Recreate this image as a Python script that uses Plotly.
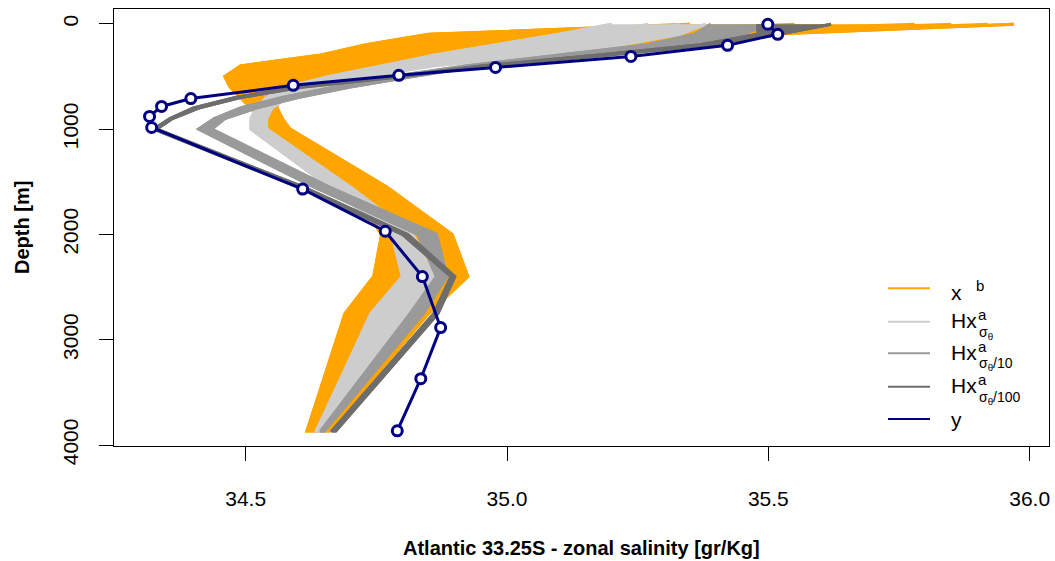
import plotly.graph_objects as go

# ---------------- data ----------------
model_depth = [5, 100, 200, 300, 400, 500, 600, 700, 800, 900, 1000, 1550, 2000, 2400, 2750, 3870]

# background ensemble x^b (orange), ordered shallow -> deep thermocline
xb_members = [
    [35.35, 34.85, 34.73, 34.64, 34.49, 34.46, 34.47, 34.49, 34.51, 34.53, 34.550, 34.70, 34.760, 34.745, 34.690, 34.617],
    [35.55, 35.02, 34.82, 34.70, 34.54, 34.47, 34.48, 34.50, 34.52, 34.54, 34.560, 34.71, 34.770, 34.760, 34.700, 34.622],
    [35.78, 35.20, 34.92, 34.77, 34.60, 34.50, 34.49, 34.51, 34.53, 34.55, 34.570, 34.72, 34.780, 34.780, 34.720, 34.630],
    [35.85, 35.32, 35.02, 34.85, 34.67, 34.55, 34.51, 34.52, 34.54, 34.56, 34.575, 34.74, 34.860, 34.905, 34.830, 34.652],
    [35.92, 35.42, 35.12, 34.93, 34.74, 34.61, 34.55, 34.54, 34.55, 34.57, 34.580, 34.75, 34.880, 34.915, 34.840, 34.656],
    [35.97, 35.50, 35.22, 35.00, 34.82, 34.68, 34.59, 34.56, 34.56, 34.57, 34.585, 34.77, 34.895, 34.925, 34.850, 34.660],
]

# analysis Hx^a, sigma_theta (light grey)
hxa_members = [
    [35.20, 35.10, 34.98, 34.86, 34.76, 34.66, 34.58, 34.54, 34.52, 34.51, 34.510, 34.66, 34.780, 34.800, 34.740, 34.635],
    [35.27, 35.18, 35.06, 34.93, 34.80, 34.69, 34.60, 34.55, 34.53, 34.52, 34.520, 34.67, 34.790, 34.820, 34.760, 34.640],
    [35.33, 35.26, 35.14, 35.00, 34.83, 34.71, 34.62, 34.57, 34.54, 34.53, 34.530, 34.68, 34.810, 34.840, 34.785, 34.645],
    [35.38, 35.33, 35.22, 35.06, 34.86, 34.73, 34.64, 34.58, 34.55, 34.54, 34.540, 34.70, 34.820, 34.860, 34.810, 34.650],
]

# analysis Hx^a, sigma_theta/10 (grey)
hxa10_members = [
    [35.39, 35.36, 35.27, 35.10, 34.92, 34.78, 34.67, 34.57, 34.49, 34.44, 34.410, 34.63, 34.830, 34.865, 34.815, 34.643],
    [35.50, 35.45, 35.34, 35.15, 34.95, 34.82, 34.70, 34.60, 34.52, 34.46, 34.435, 34.66, 34.865, 34.885, 34.840, 34.650],
]

# analysis Hx^a, sigma_theta/100 (dark grey)
hxa100_members = [
    [35.48, 35.48, 35.37, 35.17, 34.95, 34.79, 34.60, 34.48, 34.40, 34.355, 34.324, 34.60, 34.800, 34.893, 34.860, 34.664],
    [35.62, 35.52, 35.39, 35.19, 34.96, 34.80, 34.61, 34.49, 34.41, 34.360, 34.330, 34.61, 34.810, 34.900, 34.868, 34.672],
]

# observations y
obs_depth = [5, 100, 205, 310, 415, 490, 585, 710, 785, 880, 985, 1570, 1970, 2400, 2885, 3370, 3865]
obs_salinity = [35.499, 35.518, 35.422, 35.237, 34.978, 34.793, 34.591, 34.395, 34.339, 34.316, 34.320,
                34.609, 34.767, 34.838, 34.873, 34.835, 34.790]

x_ticks = [34.5, 35.0, 35.5, 36.0]
x_ticktext = ["34.5", "35.0", "35.5", "36.0"]
y_ticks = [0, 1000, 2000, 3000, 4000]
y_ticktext = ["0", "1000", "2000", "3000", "4000"]

ORANGE = "#FFA500"
LGREY = "#CDCDCD"
MGREY = "#9A9A9A"
DGREY = "#6E6E6E"
NAVY = "#000080"
FONT = "Liberation Sans, Arial, sans-serif"

# ---------------- figure ----------------
W, H = 1055, 561
L, R, T, B = 114, 6, 9, 115
fig = go.Figure()

def add_ensemble(members, color, width):
    first, last = members[0], members[-1]
    # envelope between the first and last member (from the data itself)
    fig.add_trace(go.Scatter(x=first + last[::-1], y=model_depth + model_depth[::-1],
                             mode="lines", fill="toself", fillcolor=color,
                             line=dict(color=color, width=width),
                             showlegend=False, hoverinfo="skip"))
    for m in members:
        fig.add_trace(go.Scatter(x=m, y=model_depth, mode="lines",
                                 line=dict(color=color, width=width),
                                 showlegend=False, hoverinfo="skip"))

add_ensemble(xb_members, ORANGE, 3)
add_ensemble(hxa_members, LGREY, 3)
add_ensemble(hxa10_members, MGREY, 3)
add_ensemble(hxa100_members, DGREY, 3)

fig.add_trace(go.Scatter(x=obs_salinity, y=obs_depth, mode="lines+markers",
                         line=dict(color=NAVY, width=3),
                         marker=dict(symbol="circle", size=10, color="white",
                                     line=dict(color=NAVY, width=3)),
                         showlegend=False, hoverinfo="skip"))

axis_common = dict(showgrid=False, zeroline=False, showline=True, linecolor="black",
                   linewidth=1.3, mirror=True, ticks="outside", ticklen=14,
                   tickwidth=1.3, tickcolor="black", automargin=False,
                   tickfont=dict(family=FONT, size=21, color="black"))

fig.update_xaxes(range=[34.248, 36.037], tickmode="array", tickvals=x_ticks,
                 ticktext=x_ticktext, ticklabelstandoff=20, **axis_common)
fig.update_yaxes(range=[4009, -140], tickmode="array", tickvals=y_ticks,
                 ticktext=y_ticktext, tickangle=-90, ticklabelstandoff=12, **axis_common)

def px2paper(px, py):
    return (px - L) / (W - L - R), (H - B - py) / (H - T - B)

annotations = []
def ann(text, px, py, size, bold=False, xanchor="left", angle=0):
    x, y = px2paper(px, py)
    annotations.append(dict(text=f"<b>{text}</b>" if bold else text, x=x, y=y,
                            xref="paper", yref="paper", showarrow=False,
                            xanchor=xanchor, yanchor="middle", textangle=angle,
                            font=dict(family=FONT, size=size, color="black")))

ann("Atlantic 33.25S - zonal salinity [gr/Kg]", 581, 548, 20, bold=True, xanchor="center")
ann("Depth [m]", 22, 228, 20, bold=True, xanchor="center", angle=-90)

# legend (bottom right, no box)
leg_rows = [288.3, 321.7, 353.3, 386.7, 419.0]
leg_colors = [ORANGE, LGREY, MGREY, DGREY, NAVY]
shapes = []
for py, col in zip(leg_rows, leg_colors):
    x0, y0 = px2paper(888, py)
    x1, _ = px2paper(930, py)
    shapes.append(dict(type="line", xref="paper", yref="paper", x0=x0, x1=x1, y0=y0, y1=y0,
                       line=dict(color=col, width=2)))

ann("x", 949, 292, 21)
ann("b", 974, 285, 15)
subs = ["σ<sub>θ</sub>", "σ<sub>θ</sub>/10", "σ<sub>θ</sub>/100"]
for py, sub in zip(leg_rows[1:4], subs):
    ann("Hx", 949, py - 1, 21)
    ann("a", 976, py - 7, 15)
    ann(sub, 977, py + 11, 14)
ann("y", 949, 419, 21)

fig.update_layout(width=W, height=H, margin=dict(l=L, r=R, t=T, b=B, pad=0, autoexpand=False),
                  paper_bgcolor="white", plot_bgcolor="white",
                  showlegend=False, annotations=annotations, shapes=shapes,
                  font=dict(family=FONT, color="black"))

fig.write_html("out.html", config={"displayModeBar": False},
               post_script="document.body.style.margin='0';document.body.style.overflow='hidden';")
